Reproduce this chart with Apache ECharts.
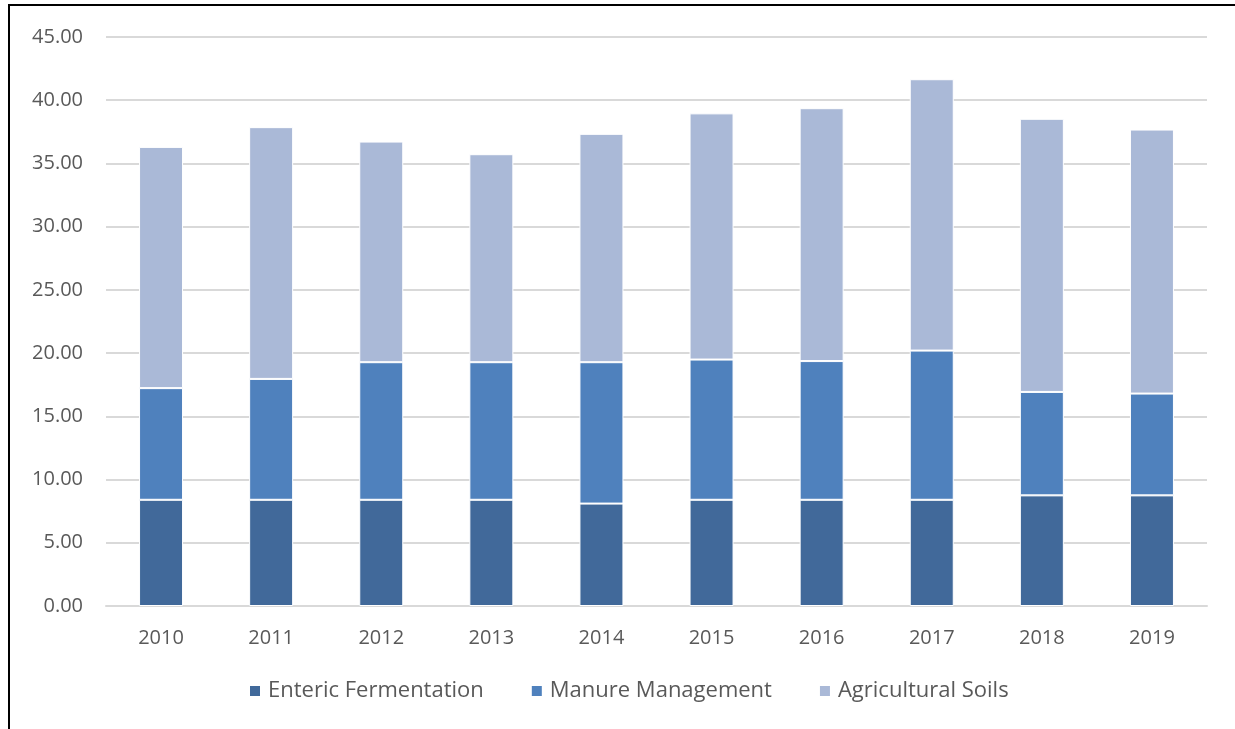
<!DOCTYPE html>
<html>
<head>
<meta charset="utf-8">
<script src="https://cdn.jsdelivr.net/npm/echarts@6/dist/echarts.min.js"></script>
<style>
  html, body { margin: 0; padding: 0; background: #ffffff; }
  #chart { width: 1235px; height: 729px; }
</style>
</head>
<body>
<div id="chart"></div>
<script>
const categories = ['2010', '2011', '2012', '2013', '2014', '2015', '2016', '2017', '2018', '2019'];
const entericFermentation = [8.4, 8.4, 8.4, 8.4, 8.1, 8.4, 8.4, 8.4, 8.75, 8.75];
const manureManagement = [8.83, 9.56, 10.88, 10.88, 11.18, 11.09, 10.97, 11.8, 8.18, 8.05];
const agriculturalSoils = [19.08, 19.91, 17.45, 16.45, 18.06, 19.47, 20.0, 21.46, 21.6, 20.88];
const seriesNames = ['Enteric Fermentation', 'Manure Management', 'Agricultural Soils'];
const seriesColors = ['#41699A', '#4F81BD', '#AAB9D7'];

const FONT = '"Open Sans", sans-serif';
const TEXT = '#595959';

const chart = echarts.init(document.getElementById('chart'), null, { renderer: 'canvas' });

function barSeries(name, data, color) {
  return {
    name: name,
    type: 'bar',
    stack: 'total',
    data: data,
    barWidth: 44,
    itemStyle: { color: color, borderColor: '#ffffff', borderWidth: 1 },
    emphasis: { disabled: true }
  };
}

chart.setOption({
  animation: false,
  backgroundColor: '#ffffff',
  textStyle: { fontFamily: FONT },
  graphic: [{
    type: 'polyline',
    shape: { points: [[9, 729], [9, 5], [1235, 5]] },
    style: { stroke: '#000000', lineWidth: 2, fill: null },
    silent: true
  }],
  grid: { left: 106, right: 28, top: 37, bottom: 123, containLabel: false },
  legend: {
    data: seriesNames,
    bottom: 22,
    left: 243,
    icon: 'rect',
    itemWidth: 12,
    itemHeight: 12,
    itemGap: 46,
    textStyle: { color: TEXT, fontSize: 22, fontFamily: FONT, padding: [0, 0, 0, 2] }
  },
  xAxis: {
    type: 'category',
    data: categories,
    axisLine: { show: true, lineStyle: { color: '#D9D9D9', width: 2 } },
    axisTick: { show: false },
    axisLabel: { color: TEXT, fontSize: 20, fontFamily: FONT, margin: 22 }
  },
  yAxis: {
    type: 'value',
    min: 0,
    max: 45,
    interval: 5,
    axisLine: { show: false },
    axisTick: { show: false },
    splitLine: { lineStyle: { color: '#D9D9D9', width: 2 } },
    axisLabel: {
      color: TEXT, fontSize: 20, fontFamily: FONT, margin: 23,
      formatter: function (v) { return v.toFixed(2); }
    }
  },
  series: [
    barSeries(seriesNames[0], entericFermentation, seriesColors[0]),
    barSeries(seriesNames[1], manureManagement, seriesColors[1]),
    barSeries(seriesNames[2], agriculturalSoils, seriesColors[2])
  ]
});
</script>
</body>
</html>
